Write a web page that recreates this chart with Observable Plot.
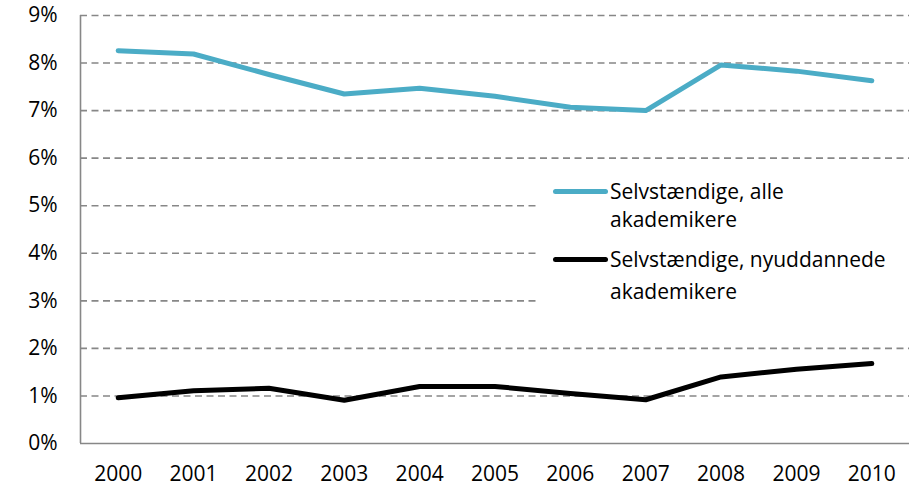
<!DOCTYPE html>
<html>
<head>
<meta charset="utf-8">
<script src="https://cdn.jsdelivr.net/npm/d3@7"></script>
<script src="https://cdn.jsdelivr.net/npm/@observablehq/plot@0.6"></script>
<style>
  html, body { margin: 0; padding: 0; background: #fff; }
  #wrap { position: relative; width: 922px; height: 489px; font-family: "Open Sans", sans-serif; }
  #legend { position: absolute; left: 540px; top: 172px; width: 369px; height: 136px; background: #fff; }
  .item { position: absolute; left: 13px; }
  .sw { position: absolute; left: 0; width: 55px; height: 5px; border-radius: 3px; }
  .lbl { position: absolute; left: 57px; font-size: 21px; line-height: 29px; color: #000; white-space: nowrap; }
</style>
</head>
<body>
<div id="wrap"></div>
<script>
const years = [2000, 2001, 2002, 2003, 2004, 2005, 2006, 2007, 2008, 2009, 2010];
const alle = [8.26, 8.19, 7.76, 7.35, 7.47, 7.30, 7.07, 7.00, 7.96, 7.83, 7.63];
const nyuddannede = [0.96, 1.11, 1.16, 0.91, 1.20, 1.20, 1.05, 0.92, 1.40, 1.56, 1.68];
const seriesNames = ["Selvstændige, alle akademikere", "Selvstændige, nyuddannede akademikere"];
const seriesColors = ["#4bacc6", "#000000"];
const yTicks = [0, 1, 2, 3, 4, 5, 6, 7, 8, 9];

const rows = [];
years.forEach((yr, i) => {
  rows.push({year: yr, value: alle[i], series: seriesNames[0]});
  rows.push({year: yr, value: nyuddannede[i], series: seriesNames[1]});
});

const chart = Plot.plot({
  width: 922,
  height: 489,
  marginLeft: 80,
  marginRight: 13,
  marginTop: 15,
  marginBottom: 46,
  style: {fontFamily: "Open Sans, sans-serif", fontSize: "21px", color: "#000", background: "#fff"},
  x: {domain: [1999.5, 2010.5], axis: null, label: null},
  y: {domain: [0, 9], axis: null, label: null},
  color: {domain: seriesNames, range: seriesColors},
  marks: [
    Plot.ruleY(yTicks.filter(d => d > 0), {stroke: "#878787", strokeWidth: 1.6, strokeDasharray: "7,4.5"}),
    Plot.ruleY([0], {stroke: "#878787", strokeWidth: 1.6}),
    Plot.ruleX([1999.5], {stroke: "#878787", strokeWidth: 1.6}),
    Plot.axisY(yTicks, {tickSize: 0, tickPadding: 23, tickFormat: d => d + "%", fill: "#000", fontSize: 21, label: null}),
    Plot.axisX(years, {tickSize: 0, tickPadding: 23, tickFormat: d => String(d), fill: "#000", fontSize: 21, label: null}),
    Plot.lineY(rows, {x: "year", y: "value", z: "series", stroke: "series", strokeWidth: 5, strokeLinejoin: "round", strokeLinecap: "round"})
  ]
});
const wrap = document.getElementById("wrap");
wrap.appendChild(chart);

const legend = document.createElement("div");
legend.id = "legend";
const tops = [19, 87];
const labelLines = [["Selvstændige, alle", "akademikere"], ["Selvstændige, nyuddannede", "akademikere"]];
seriesNames.forEach((name, i) => {
  const item = document.createElement("div");
  item.className = "item";
  item.style.top = tops[i] + "px";
  const sw = document.createElement("div");
  sw.className = "sw";
  sw.style.background = seriesColors[i];
  sw.style.top = "-2.5px";
  item.appendChild(sw);
  labelLines[i].forEach((t, j) => {
    const l = document.createElement("div");
    l.className = "lbl";
    l.textContent = t;
    l.style.top = (-14.5 + j * (i === 0 ? 28 : 32)) + "px";
    item.appendChild(l);
  });
  legend.appendChild(item);
});
wrap.appendChild(legend);
</script>
</body>
</html>
